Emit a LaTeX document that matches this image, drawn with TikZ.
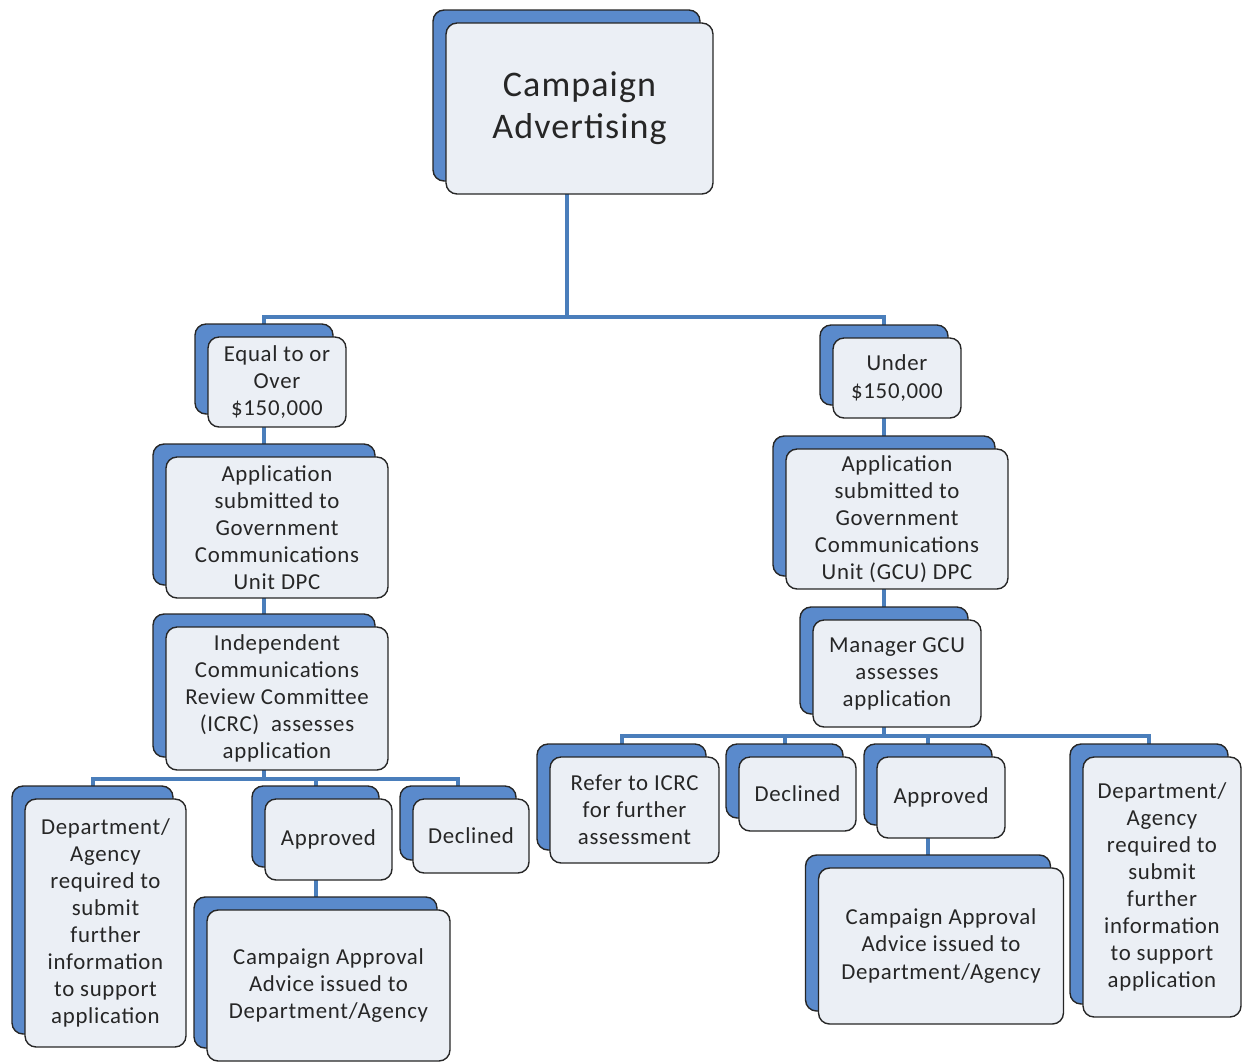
\documentclass[tikz,border=0pt]{standalone}
\usepackage{fontspec}
\setmainfont{Carlito}[LetterSpace=3]
\usetikzlibrary{shadows, backgrounds}

\definecolor{cardblue}{RGB}{90,138,204}
\definecolor{cardfill}{RGB}{235,239,245}
\definecolor{linkblue}{RGB}{74,126,187}
\definecolor{textgray}{RGB}{38,38,38}

\tikzset{
  card/.style={draw=black!85, line width=0.8pt, fill=cardfill,
    rounded corners=0.22cm, align=center, inner sep=2pt, text=textgray,
    font=\fontsize{13}{15.4}\selectfont,
    copy shadow={shadow xshift=-0.26cm, shadow yshift=0.26cm,
      fill=cardblue, draw=black!85}},
  link/.style={draw=linkblue, line width=0.08cm}
}

\begin{document}
\begin{tikzpicture}[x=0.02cm, y=-0.02cm]
        \useasboundingbox (0,0) rectangle (1242,1063);

        % Kopf
        \node[card, minimum width=5.34cm, minimum height=3.42cm,
          font=\fontsize{20.5}{23.8}\selectfont] (ca) at (579.5,108.5) {Campaign\\Advertising};

        % Linker Zweig
        \node[card, minimum width=2.76cm, minimum height=1.80cm] (eq) at (277,382) {Equal to or\\Over\\\$150,000};
        \node[card, minimum width=4.44cm, minimum height=2.82cm] (appL) at (277,527.5) {Application\\submitted to\\Government\\Communications\\Unit DPC};
        \node[card, minimum width=4.44cm, minimum height=2.86cm] (icrc) at (277,698.5) {Independent\\Communications\\Review Committee\\(ICRC)\ \ assesses\\application};
        \node[card, minimum width=3.22cm, minimum height=4.96cm] (deptL) at (105.5,923) {Department/\\Agency\\required to\\submit\\further\\information\\to support\\application};
        \node[card, minimum width=2.54cm, minimum height=1.62cm] (apprL) at (328.5,839.5) {Approved};
        \node[card, minimum width=2.32cm, minimum height=1.48cm] (declL) at (471,836) {Declined};
        \node[card, minimum width=4.86cm, minimum height=3.02cm] (cadvL) at (328.5,985.5) {Campaign Approval\\Advice issued to\\Department/Agency};

        % Rechter Zweig
        \node[card, minimum width=2.56cm, minimum height=1.60cm] (under) at (897,378) {Under\\\$150,000};
        \node[card, minimum width=4.44cm, minimum height=2.80cm] (appR) at (897,519) {Application\\submitted to\\Government\\Communications\\Unit (GCU) DPC};
        \node[card, minimum width=3.36cm, minimum height=2.14cm] (mgr) at (897,673.5) {Manager GCU\\assesses\\application};
        \node[card, minimum width=3.38cm, minimum height=2.12cm] (refer) at (634.5,810) {Refer to ICRC\\for further\\assessment};
        \node[card, minimum width=2.34cm, minimum height=1.48cm] (declR) at (797.5,794) {Declined};
        \node[card, minimum width=2.56cm, minimum height=1.62cm] (apprR) at (941,797.5) {Approved};
        \node[card, minimum width=4.90cm, minimum height=3.12cm] (cadvR) at (941,946) {Campaign Approval\\Advice issued to\\Department/Agency};
        \node[card, minimum width=3.16cm, minimum height=5.20cm] (deptR) at (1162,887) {Department/\\Agency\\required to\\submit\\further\\information\\to support\\application};

        % Mitte der hinteren Karte
        \foreach \n in {ca,eq,appL,icrc,deptL,apprL,declL,cadvL,under,appR,mgr,refer,declR,apprR,cadvR,deptR}
          \coordinate (\n-b) at ([xshift=-0.26cm]\n.center);

        % Sammelschienen
        \coordinate (lvl0) at (0,317);
        \coordinate (lvl1) at (0,779);
        \coordinate (lvl2) at (0,736);

        % Verbindungen
        \begin{scope}[on background layer]
          \draw[link] (eq-b) |- (ca-b |- lvl0) -- (ca-b);
          \draw[link] (under-b) |- (ca-b |- lvl0);
          \draw[link] (eq-b) -- (appL-b) -- (icrc-b) -- (icrc-b |- lvl1);
          \draw[link] (deptL-b) |- (declL-b |- lvl1) -- (declL-b);
          \draw[link] (cadvL-b) -- (apprL-b |- lvl1);
          \draw[link] (under-b) -- (appR-b) -- (mgr-b) -- (mgr-b |- lvl2);
          \draw[link] (refer-b) |- (deptR-b |- lvl2) -- (deptR-b);
          \draw[link] (declR-b) -- (declR-b |- lvl2);
          \draw[link] (cadvR-b) -- (apprR-b |- lvl2);
        \end{scope}
    \end{tikzpicture}
\end{document}
